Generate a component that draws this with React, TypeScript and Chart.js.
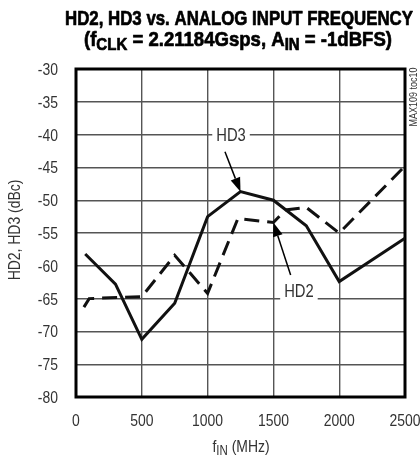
import React, { useEffect, useRef } from "react";
import { Chart, registerables } from "chart.js";

Chart.register(...registerables);

// ---- data ----
const hd3Freq = [70, 300, 500, 750, 1000, 1250, 1500, 1750, 2000, 2500];
const hd3Dbc = [-58.2, -62.8, -71.2, -65.7, -52.5, -48.7, -50.0, -53.9, -62.4, -55.8];

const hd2Freq = [60, 100, 500, 750, 1000, 1230, 1500, 1590, 1750, 2000, 2500];
const hd2Dbc = [-66.3, -65.0, -64.7, -58.4, -64.2, -52.8, -53.4, -51.5, -51.1, -55.0, -44.8];

const xMin = 0;
const xMax = 2500;
const xStep = 500;
const yMin = -80;
const yMax = -30;
const yStep = 5;

const titleLine1: [string, boolean][] = [["HD2, HD3 vs. ANALOG INPUT FREQUENCY", false]];
const titleLine2: [string, boolean][] = [
  ["(f", false],
  ["CLK", true],
  [" = 2.21184Gsps, A", false],
  ["IN", true],
  [" = -1dBFS)", false],
];
const xTitleParts: [string, boolean][] = [
  ["f", false],
  ["IN", true],
  [" (MHz)", false],
];
const yTitle = "HD2, HD3 (dBc)";
const sideNote = "MAX109 toc10";

const labelHD3 = { text: "HD3", at: [1178, -40], grid: -40, tail: [1132, -42.6], head: [1250, -48.7] };
const labelHD2 = { text: "HD2", at: [1694, -63.8], grid: -65, tail: [1631, -61.4], head: [1500, -53.4] };

const FONT = "'Liberation Sans', Arial, sans-serif";
const NARROW = 0.82; // emulate a narrow face by horizontal compression
const TEXT_COLOR = "#333";

function drawNarrow(
  ctx: CanvasRenderingContext2D,
  text: string,
  x: number,
  y: number,
  size: number,
  weight: string,
  align: "left" | "center" | "right",
  baseline: CanvasTextBaseline,
  color: string,
  sx = NARROW
) {
  ctx.save();
  ctx.font = `${weight} ${size}px ${FONT}`;
  ctx.fillStyle = color;
  ctx.textAlign = align;
  ctx.textBaseline = baseline;
  ctx.translate(x, y);
  ctx.scale(sx, 1);
  ctx.fillText(text, 0, 0);
  ctx.restore();
}

function drawRich(
  ctx: CanvasRenderingContext2D,
  parts: [string, boolean][],
  cx: number,
  baseline: number,
  size: number,
  weight: string,
  color: string,
  targetWidth?: number,
  strokeW = 0
) {
  const subSize = Math.round(size * 0.8);
  const fontFor = (sub: boolean) => `${weight} ${sub ? subSize : size}px ${FONT}`;
  let total = 0;
  const widths = parts.map(([t, sub]) => {
    ctx.font = fontFor(sub);
    const w = ctx.measureText(t).width;
    total += w;
    return w;
  });
  const sx = targetWidth ? targetWidth / total : NARROW;
  ctx.save();
  ctx.translate(cx - (total * sx) / 2, baseline);
  ctx.scale(sx, 1);
  ctx.fillStyle = color;
  ctx.strokeStyle = color;
  ctx.lineWidth = strokeW;
  ctx.lineJoin = "round";
  ctx.textAlign = "left";
  ctx.textBaseline = "alphabetic";
  let x = 0;
  parts.forEach(([t, sub], i) => {
    ctx.font = fontFor(sub);
    const yy = sub ? size * 0.2 : 0;
    ctx.fillText(t, x, yy);
    if (strokeW > 0) ctx.strokeText(t, x, yy);
    x += widths[i];
  });
  ctx.restore();
  return sx;
}

const framePlugin = {
  id: "frame",
  beforeDatasetsDraw(chart: any) {
    const { ctx, chartArea } = chart;
    ctx.save();
    ctx.strokeStyle = "#000";
    ctx.lineWidth = 3;
    ctx.strokeRect(chartArea.left, chartArea.top, chartArea.right - chartArea.left, chartArea.bottom - chartArea.top);
    ctx.restore();
  },
};

const textPlugin = {
  id: "texts",
  afterDraw(chart: any) {
    const { ctx, chartArea, scales } = chart;
    const xs = scales.x;
    const ys = scales.y;
    ctx.save();

    // tick labels from the scales' own ticks
    xs.ticks.forEach((t: any) => {
      drawNarrow(ctx, String(t.value), xs.getPixelForValue(t.value), 426, 17, "normal", "center", "alphabetic", TEXT_COLOR);
    });
    ys.ticks.forEach((t: any) => {
      drawNarrow(ctx, String(t.value), chartArea.left - 18, ys.getPixelForValue(t.value) + 6, 17, "normal", "right", "alphabetic", TEXT_COLOR);
    });

    // title
    drawRich(ctx, titleLine1, 239, 25, 21, "bold", "#000", 348, 0.7);
    drawRich(ctx, titleLine2, 238, 46, 21, "bold", "#000", 308, 0.7);

    // x title
    drawRich(ctx, xTitleParts, 241, 452, 17, "normal", TEXT_COLOR);

    // y title
    ctx.save();
    ctx.translate(15, (chartArea.top + chartArea.bottom) / 2 - 3);
    ctx.rotate(-Math.PI / 2);
    drawNarrow(ctx, yTitle, 0, 0, 17, "normal", "center", "middle", TEXT_COLOR);
    ctx.restore();

    // side note
    ctx.save();
    ctx.translate(414, 97);
    ctx.rotate(-Math.PI / 2);
    drawNarrow(ctx, sideNote, 0, 0, 11, "normal", "center", "middle", TEXT_COLOR);
    ctx.restore();

    // annotations
    [labelHD3, labelHD2].forEach((a) => {
      const tx = xs.getPixelForValue(a.at[0]);
      const ty = ys.getPixelForValue(a.at[1]);
      const gy = ys.getPixelForValue(a.grid);
      ctx.font = `normal 18px ${FONT}`;
      const w = ctx.measureText(a.text).width * NARROW;
      const top = Math.min(ty - 8, gy - 2);
      const bot = Math.max(ty + 8, gy + 2);
      ctx.fillStyle = "#fff";
      ctx.fillRect(tx - w / 2 - 4, top, w + 8, bot - top);
      drawNarrow(ctx, a.text, tx, ty + 1, 18, "normal", "center", "middle", TEXT_COLOR);

      const x0 = xs.getPixelForValue(a.tail[0]);
      const y0 = ys.getPixelForValue(a.tail[1]);
      const x1 = xs.getPixelForValue(a.head[0]);
      const y1 = ys.getPixelForValue(a.head[1]);
      const ang = Math.atan2(y1 - y0, x1 - x0);
      const L = 14;
      const H = 5;
      const bx = x1 - L * Math.cos(ang);
      const by = y1 - L * Math.sin(ang);
      ctx.strokeStyle = "#000";
      ctx.lineWidth = 1.5;
      ctx.beginPath();
      ctx.moveTo(x0, y0);
      ctx.lineTo(bx, by);
      ctx.stroke();
      ctx.fillStyle = "#000";
      ctx.beginPath();
      ctx.moveTo(x1, y1);
      ctx.lineTo(bx + H * Math.sin(ang), by - H * Math.cos(ang));
      ctx.lineTo(bx - H * Math.sin(ang), by + H * Math.cos(ang));
      ctx.closePath();
      ctx.fill();
    });

    ctx.restore();
  },
};

export default function App() {
  const ref = useRef<HTMLCanvasElement | null>(null);

  useEffect(() => {
    if (!ref.current) return;
    const chart = new Chart(ref.current, {
      type: "line",
      data: {
        datasets: [
          {
            label: "HD3",
            data: hd3Freq.map((f, i) => ({ x: f, y: hd3Dbc[i] })),
            borderColor: "#111",
            borderWidth: 3,
            pointRadius: 0,
            tension: 0,
            fill: false,
            borderJoinStyle: "miter",
          },
          {
            label: "HD2",
            data: hd2Freq.map((f, i) => ({ x: f, y: hd2Dbc[i] })),
            borderColor: "#111",
            borderWidth: 3,
            borderDash: [15, 8],
            pointRadius: 0,
            tension: 0,
            fill: false,
            borderJoinStyle: "miter",
          },
        ],
      },
      options: {
        responsive: false,
        animation: false,
        events: [],
        layout: { padding: { left: 0, right: 15, top: 69, bottom: 0 } },
        plugins: {
          legend: { display: false },
          tooltip: { enabled: false },
          title: { display: false },
        },
        scales: {
          x: {
            type: "linear",
            min: xMin,
            max: xMax,
            ticks: { stepSize: xStep, display: false },
            grid: { color: "#555", lineWidth: 1.4, drawTicks: false },
            border: { display: false },
            afterFit: (s: any) => {
              s.height = 59;
            },
          },
          y: {
            type: "linear",
            min: yMin,
            max: yMax,
            ticks: { stepSize: yStep, display: false },
            grid: { color: "#555", lineWidth: 1.4, drawTicks: false },
            border: { display: false },
            afterFit: (s: any) => {
              s.width = 76;
            },
          },
        },
      },
      plugins: [framePlugin, textPlugin],
    });
    return () => chart.destroy();
  }, []);

  return (
    <div style={{ position: "fixed", left: 0, top: 0, width: 420, height: 456, background: "#fff" }}>
      <canvas ref={ref} width={420} height={456} style={{ display: "block" }} />
    </div>
  );
}
